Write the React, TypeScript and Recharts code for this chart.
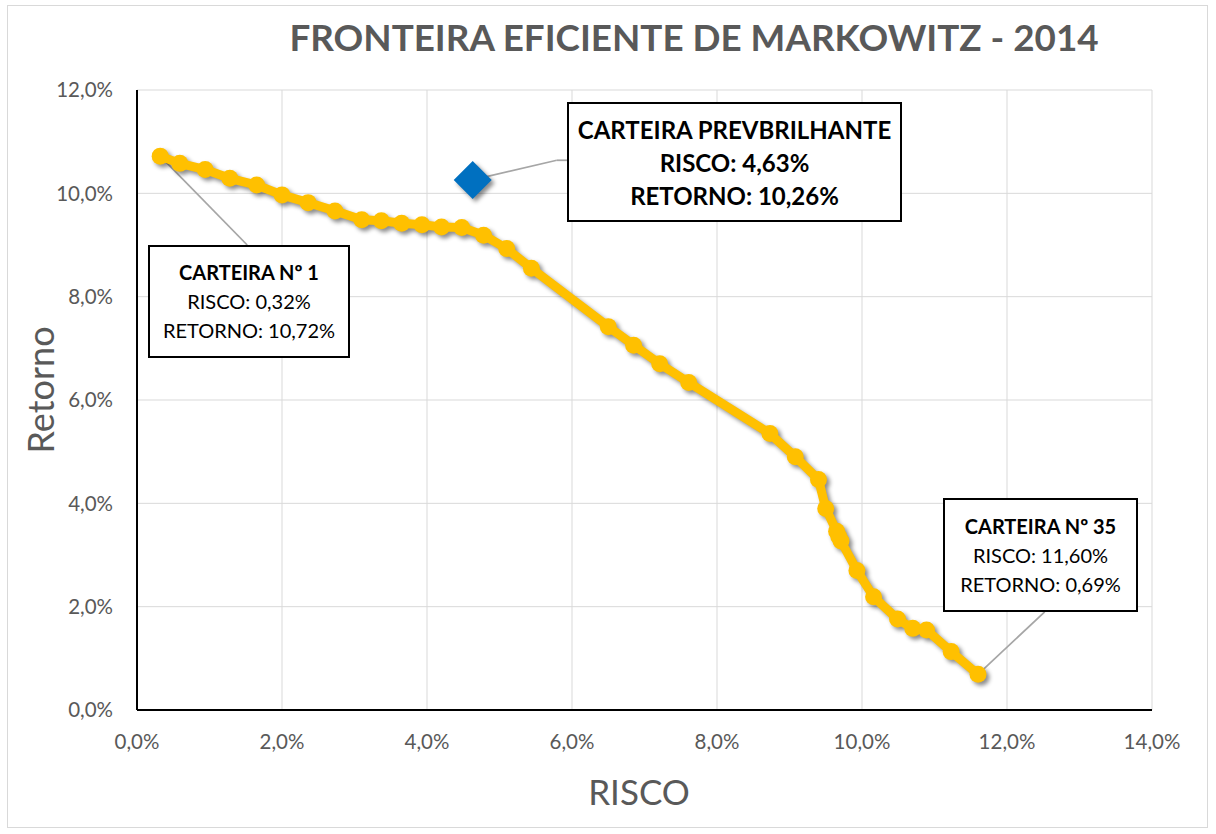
import { ScatterChart, Scatter, XAxis, YAxis, CartesianGrid, ReferenceLine } from 'recharts';

// Fronteira eficiente: risco (%) x retorno (%) for the 35 portfolios
const risco = [
  0.32, 0.59, 0.94, 1.28, 1.65, 2.0, 2.36, 2.73, 3.1, 3.37, 3.65, 3.93, 4.2, 4.48, 4.78, 5.1, 5.44,
  6.5, 6.85, 7.21, 7.61, 8.73, 9.08, 9.4, 9.5, 9.65, 9.68, 9.71, 9.93, 10.16, 10.49, 10.7, 10.89,
  11.23, 11.6,
];
const retorno = [
  10.72, 10.58, 10.46, 10.29, 10.16, 9.97, 9.82, 9.66, 9.49, 9.47, 9.42, 9.39, 9.35, 9.34, 9.19,
  8.93, 8.55, 7.42, 7.06, 6.7, 6.34, 5.35, 4.9, 4.46, 3.9, 3.46, 3.36, 3.27, 2.7, 2.19, 1.76, 1.58,
  1.55, 1.13, 0.69,
];

const prevRisco = [4.63];
const prevRetorno = [10.26];

const xTicks = [0, 2, 4, 6, 8, 10, 12, 14];
const yTicks = [0, 2, 4, 6, 8, 10, 12];

// leader lines from the marks to the label boxes (data units)
const leader1 = [
  { x: 0.32, y: 10.72 },
  { x: 1.52, y: 9.0 },
];
const leader2a = [
  { x: 4.63, y: 10.26 },
  { x: 5.79, y: 10.64 },
];
const leader2b = [
  { x: 5.79, y: 10.64 },
  { x: 5.93, y: 10.64 },
];
const leader3 = [
  { x: 11.6, y: 0.69 },
  { x: 12.52, y: 1.9 },
];

const frontier = risco.map((r, i) => ({ risco: r, retorno: retorno[i] }));
const prev = prevRisco.map((r, i) => ({ risco: r, retorno: prevRetorno[i] }));

const fmt = (v: number) => v.toFixed(1).replace('.', ',') + '%';

const FONT = 'Lato, "Open Sans", sans-serif';
const GRAY = '#595959';

const Dot = (props: any) => <circle cx={props.cx} cy={props.cy} r={8.5} fill="#FFC000" />;

const Diamond = (props: any) => {
  const { cx, cy } = props;
  const h = 19;
  return (
    <polygon
      points={`${cx},${cy - h} ${cx + h},${cy} ${cx},${cy + h} ${cx - h},${cy}`}
      fill="#0070C0"
    />
  );
};

const boxStyle = (left: number, top: number, width: number, height: number) => ({
  position: 'absolute' as const,
  left,
  top,
  width,
  height,
  boxSizing: 'border-box' as const,
  border: '2px solid #000',
  background: '#fff',
  display: 'flex',
  flexDirection: 'column' as const,
  alignItems: 'center',
  justifyContent: 'center',
  fontFamily: FONT,
  color: '#000',
  whiteSpace: 'nowrap' as const,
});

export default function App() {
  return (
    <div style={{ position: 'absolute', left: 0, top: 0, width: 1216, height: 834, background: '#fff' }}>
      <style>{`.recharts-scatter { filter: drop-shadow(3px 3px 2px rgba(0,0,0,0.45)); }`}</style>
      <div
        style={{
          position: 'absolute',
          left: 7,
          top: 5,
          width: 1201,
          height: 823,
          border: '1px solid #d9d9d9',
          boxSizing: 'border-box',
        }}
      />
      <ScatterChart width={1216} height={834} margin={{ top: 90, right: 64, bottom: 94, left: 0 }}>
        <CartesianGrid stroke="#d9d9d9" strokeWidth={1} />
        <XAxis
          type="number"
          dataKey="risco"
          domain={[0, 14]}
          ticks={xTicks}
          tickFormatter={fmt}
          height={30}
          tickLine={false}
          tickSize={12}
          tickMargin={12}
          axisLine={{ stroke: '#000', strokeWidth: 2 }}
          tick={{ fill: GRAY, fontSize: 20.5, fontFamily: FONT }}
        />
        <YAxis
          type="number"
          dataKey="retorno"
          domain={[0, 12]}
          ticks={yTicks}
          tickFormatter={fmt}
          width={137}
          tickLine={false}
          tickSize={12}
          tickMargin={12}
          axisLine={{ stroke: '#000', strokeWidth: 2 }}
          tick={{ fill: GRAY, fontSize: 20.5, fontFamily: FONT }}
        />
        <Scatter
          data={frontier}
          line={{ stroke: '#FFC000', strokeWidth: 9 }}
          lineType="joint"
          shape={Dot}
          isAnimationActive={false}
        />
        <Scatter data={prev} shape={Diamond} isAnimationActive={false} />
        <ReferenceLine segment={leader1} stroke="#a6a6a6" strokeWidth={1.75} />
        <ReferenceLine segment={leader2a} stroke="#a6a6a6" strokeWidth={1.75} />
        <ReferenceLine segment={leader2b} stroke="#a6a6a6" strokeWidth={1.75} />
        <ReferenceLine segment={leader3} stroke="#a6a6a6" strokeWidth={1.75} />
      </ScatterChart>

      <div
        style={{
          position: 'absolute',
          left: 0,
          width: 1388,
          top: 15,
          textAlign: 'center',
          fontFamily: FONT,
          fontWeight: 700,
          fontSize: 36.8,
          color: GRAY,
          whiteSpace: 'nowrap',
        }}
      >
        FRONTEIRA EFICIENTE DE MARKOWITZ - 2014
      </div>
      <div
        style={{
          position: 'absolute',
          left: 0,
          width: 1278,
          top: 770,
          textAlign: 'center',
          fontFamily: FONT,
          fontSize: 35,
          color: GRAY,
        }}
      >
        RISCO
      </div>
      <div
        style={{
          position: 'absolute',
          left: 40,
          top: 390,
          transform: 'translate(-50%, -50%) rotate(-90deg)',
          fontFamily: FONT,
          fontSize: 36,
          color: GRAY,
          whiteSpace: 'nowrap',
        }}
      >
        Retorno
      </div>

      <div style={{ ...boxStyle(148, 245, 202, 113), fontSize: 20, lineHeight: '29px' }}>
        <div style={{ fontWeight: 700 }}>CARTEIRA Nº 1</div>
        <div>RISCO: 0,32%</div>
        <div>RETORNO: 10,72%</div>
      </div>
      <div style={{ ...boxStyle(567, 102, 335, 120), fontSize: 24, lineHeight: '33px', fontWeight: 700 }}>
        <div>CARTEIRA PREVBRILHANTE</div>
        <div>RISCO: 4,63%</div>
        <div>RETORNO: 10,26%</div>
      </div>
      <div style={{ ...boxStyle(943, 498, 195, 114), fontSize: 20, lineHeight: '29px' }}>
        <div style={{ fontWeight: 700 }}>CARTEIRA Nº 35</div>
        <div>RISCO: 11,60%</div>
        <div>RETORNO: 0,69%</div>
      </div>
    </div>
  );
}
